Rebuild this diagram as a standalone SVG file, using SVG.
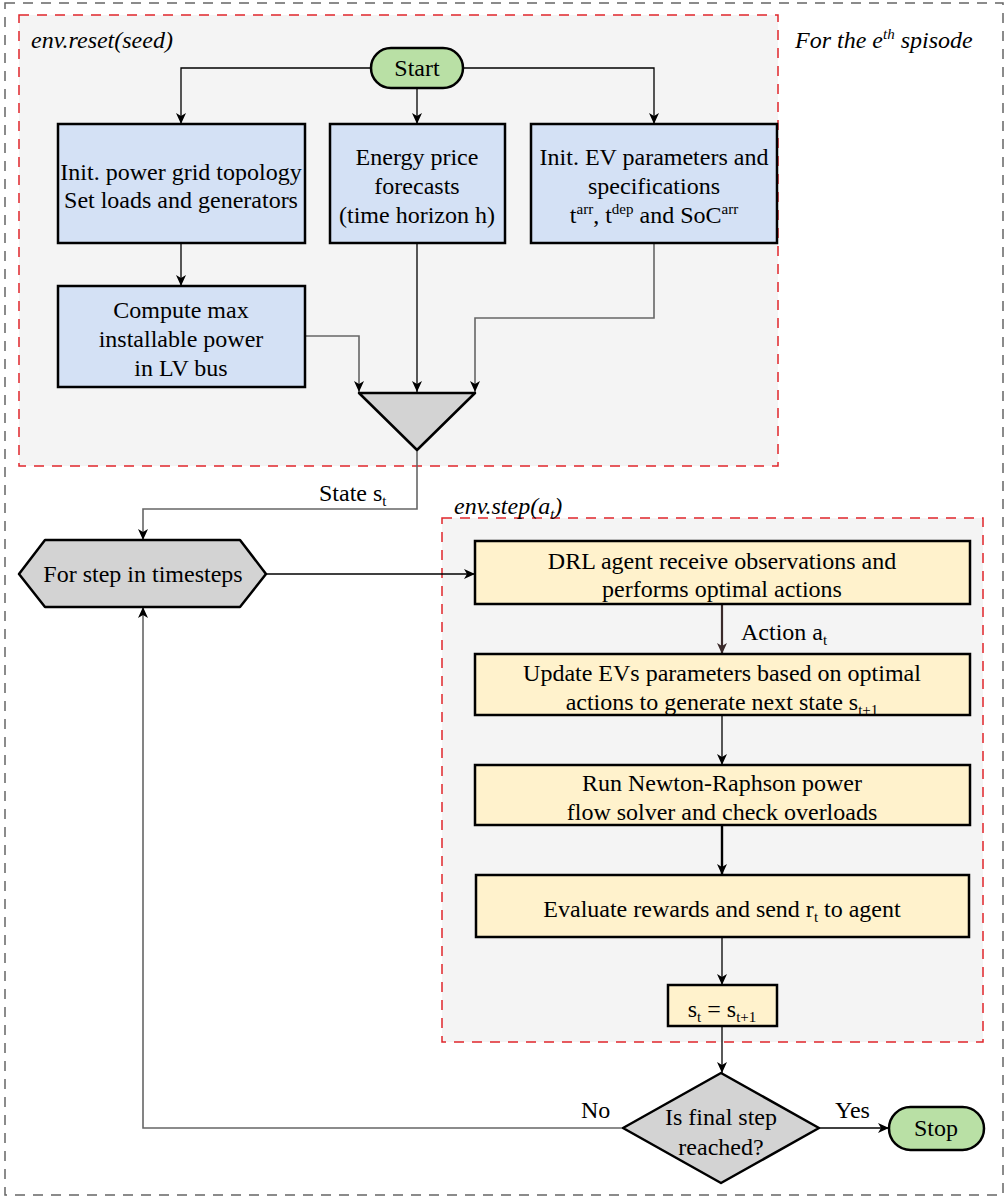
<svg xmlns="http://www.w3.org/2000/svg" width="1008" height="1201" viewBox="0 0 1008 1201">
<style>
text{font-family:"Liberation Serif","Times New Roman",serif;font-size:24px;fill:#000}
.c{text-anchor:middle}
.it{font-style:italic}
.blue{fill:#d4e1f5;stroke:#000;stroke-width:2.5}
.yel{fill:#fff2cc;stroke:#000;stroke-width:2.5}
.gray{fill:#d3d3d3;stroke:#000;stroke-width:2.5;stroke-linejoin:round}
.green{fill:#b9e0a5;stroke:#000;stroke-width:2.5}
.ln{fill:none;stroke:#000;stroke-width:1.3}
.lg{fill:none;stroke:#666;stroke-width:1.6}
.grp{fill:#f4f4f4;stroke:#e0262b;stroke-width:1.5;stroke-dasharray:10 8}
.sub{font-size:15px}
</style>
<defs>
<marker id="a" markerUnits="userSpaceOnUse" markerWidth="12" markerHeight="12" refX="11" refY="5" orient="auto" overflow="visible">
<path d="M0,0 L11,5 L0,10 L3,5 z" fill="#000"/>
</marker>
<marker id="ab" markerUnits="userSpaceOnUse" markerWidth="12" markerHeight="12" refX="11" refY="5" orient="auto" overflow="visible">
<path d="M0,0 L11,5 L0,10 L3,5 z" fill="#3a2a2a"/>
</marker>
</defs>
<rect x="5" y="3" width="998" height="1192" fill="#fff" stroke="#666" stroke-width="1.5" stroke-dasharray="10 8"/>
<g id="reset-group">
<rect class="grp" x="19" y="15" width="759" height="451"/>
<text class="it" x="31" y="48">env.reset(seed)</text>
</g>
<text class="it" x="795" y="48">For the e<tspan class="sub" dy="-9">th</tspan><tspan dy="9"> spisode</tspan></text>
<g id="step-group">
<rect class="grp" x="442" y="518" width="541" height="524"/>
<text class="it" x="454" y="514">env.step(a<tspan class="sub" dy="5">t</tspan><tspan dy="-5">)</tspan></text>
</g>
<g id="connectors">
<polyline class="ln" points="371,68 181,68 181,124" marker-end="url(#a)"/>
<polyline class="ln" points="463,68 654,68 654,124" marker-end="url(#a)"/>
<line class="ln" x1="417" y1="88" x2="417" y2="124" marker-end="url(#a)"/>
<line class="ln" x1="181" y1="243" x2="181" y2="286" marker-end="url(#a)"/>
<polyline class="lg" points="305,336 359,336 359,392" marker-end="url(#a)"/>
<line class="ln" x1="417" y1="243" x2="417" y2="392" marker-end="url(#a)"/>
<polyline class="lg" points="654,243 654,318 475,318 475,392" marker-end="url(#a)"/>
<polyline class="lg" points="417,450 417,509 143,509 143,540" marker-end="url(#a)"/>
<text x="319" y="501">State s<tspan class="sub" dy="5">t</tspan></text>
<line class="ln" x1="266" y1="574" x2="475" y2="574" marker-end="url(#a)"/>
<line x1="722" y1="604" x2="722" y2="654" stroke="#3a2a2a" stroke-width="2.2" marker-end="url(#ab)"/>
<text x="741" y="640">Action a<tspan class="sub" dy="5">t</tspan></text>
<line class="ln" x1="722" y1="715" x2="722" y2="765" marker-end="url(#a)"/>
<line x1="722" y1="825" x2="722" y2="875" stroke="#000" stroke-width="2.4" marker-end="url(#a)"/>
<line class="ln" x1="722" y1="937" x2="722" y2="985" marker-end="url(#a)"/>
<line class="ln" x1="722" y1="1026" x2="722" y2="1073" marker-end="url(#a)"/>
<line class="ln" x1="819" y1="1128" x2="889" y2="1128" marker-end="url(#a)"/>
<text x="835" y="1118">Yes</text>
<polyline class="lg" points="623,1128 143,1128 143,607" marker-end="url(#a)"/>
<text x="581" y="1118">No</text>
</g>
<g id="start">
<rect class="green" x="371" y="48" width="92" height="40" rx="20"/>
<text class="c" x="417" y="76">Start</text>
</g>
<g id="init-grid">
<rect class="blue" x="58" y="124" width="247" height="119"/>
<text class="c" x="181" y="180">Init. power grid topology</text>
<text class="c" x="181" y="208">Set loads and generators</text>
</g>
<g id="price">
<rect class="blue" x="330" y="124" width="175" height="119"/>
<text class="c" x="417" y="165">Energy price</text>
<text class="c" x="417" y="194">forecasts</text>
<text class="c" x="417" y="223">(time horizon h)</text>
</g>
<g id="init-ev">
<rect class="blue" x="531" y="124" width="246" height="119"/>
<text class="c" x="654" y="165">Init. EV parameters and</text>
<text class="c" x="654" y="194">specifications</text>
<text class="c" x="654" y="223">t<tspan class="sub" dy="-9">arr</tspan><tspan dy="9">, t</tspan><tspan class="sub" dy="-9">dep</tspan><tspan dy="9"> and SoC</tspan><tspan class="sub" dy="-9">arr</tspan></text>
</g>
<g id="compute">
<rect class="blue" x="58" y="286" width="247" height="101"/>
<text class="c" x="181" y="318">Compute max</text>
<text class="c" x="181" y="347">installable power</text>
<text class="c" x="181" y="376">in LV bus</text>
</g>
<g id="merge">
<polygon class="gray" points="359,393 475,393 417,450"/>
</g>
<g id="loop">
<polygon class="gray" points="19,574 45,540 240,540 266,574 240,607 45,607"/>
<text class="c" x="143" y="582">For step in timesteps</text>
</g>
<g id="drl">
<rect class="yel" x="475" y="541" width="495" height="63"/>
<text class="c" x="722" y="569">DRL agent receive observations and</text>
<text class="c" x="722" y="597">performs optimal actions</text>
</g>
<g id="update">
<rect class="yel" x="475" y="654" width="495" height="61"/>
<text class="c" x="722" y="681">Update EVs parameters based on optimal</text>
<text class="c" x="722" y="710">actions to generate next state s<tspan class="sub" dy="5">t+1</tspan></text>
</g>
<g id="newton">
<rect class="yel" x="475" y="765" width="495" height="60"/>
<text class="c" x="722" y="791">Run Newton-Raphson power</text>
<text class="c" x="722" y="820">flow solver and check overloads</text>
</g>
<g id="evaluate">
<rect class="yel" x="476" y="875" width="493" height="62"/>
<text class="c" x="722" y="917">Evaluate rewards and send r<tspan class="sub" dy="5">t</tspan><tspan dy="-5"> to agent</tspan></text>
</g>
<g id="assign">
<rect class="yel" x="668" y="985" width="109" height="41"/>
<text class="c" x="722" y="1017">s<tspan class="sub" dy="5">t</tspan><tspan dy="-5"> = s</tspan><tspan class="sub" dy="5">t+1</tspan></text>
</g>
<g id="decision">
<polygon class="gray" points="721,1073 819,1128 721,1183 623,1128"/>
<text class="c" x="721" y="1125">Is final step</text>
<text class="c" x="721" y="1155">reached?</text>
</g>
<g id="stop">
<rect class="green" x="889" y="1107" width="95" height="43" rx="21.5"/>
<text class="c" x="936" y="1136">Stop</text>
</g>
</svg>
